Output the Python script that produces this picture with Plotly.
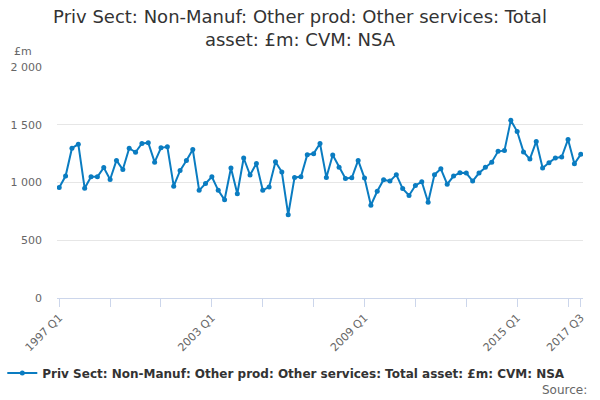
import plotly.graph_objects as go

quarters = [f"{y} Q{q}" for y in range(1997, 2018) for q in range(1, 5)][:83]
values = [956, 1056, 1297, 1332, 950, 1050, 1050, 1129, 1026, 1191,
          1112, 1297, 1262, 1338, 1344, 1176, 1300, 1309, 968, 1103,
          1191, 1285, 932, 991, 1050, 932, 850, 1126, 903, 1212,
          1065, 1165, 932, 962, 1179, 1091, 721, 1044, 1050, 1241,
          1250, 1338, 1044, 1238, 1132, 1035, 1041, 1191, 1038, 803,
          924, 1024, 1012, 1068, 947, 888, 974, 1006, 829, 1068,
          1118, 985, 1056, 1085, 1082, 1012, 1082, 1132, 1176, 1270,
          1276, 1538, 1441, 1265, 1203, 1356, 1126, 1171, 1212, 1221,
          1373, 1162, 1244]
series_name = "Priv Sect: Non-Manuf: Other prod: Other services: Total asset: £m: CVM: NSA"
title_text = "Priv Sect: Non-Manuf: Other prod: Other services: Total<br>asset: £m: CVM: NSA"
labelled = ["1997 Q1", "2003 Q1", "2009 Q1", "2015 Q1", "2017 Q3"]
y_ticks = [0, 500, 1000, 1500, 2000]
y_labels = ["0", "500", "1 000", "1 500", "2 000"]

idx = list(range(len(quarters)))
tick_idx = list(range(0, len(quarters), 8)) + [len(quarters) - 1]
tick_txt = [quarters[i] if quarters[i] in labelled else "" for i in tick_idx]

fig = go.Figure()
fig.add_trace(go.Scatter(
    x=idx, y=values, mode="lines+markers", name=series_name,
    line=dict(color="#0a7cc1", width=2),
    marker=dict(color="#0a7cc1", size=5),
    customdata=quarters,
    hovertemplate="%{customdata}: %{y}<extra></extra>",
))

fig.update_layout(
    width=600, height=400,
    margin=dict(l=57, r=17, t=67, b=102, autoexpand=False),
    paper_bgcolor="white", plot_bgcolor="white",
    font=dict(family="DejaVu Sans", color="#666666", size=11),
    title=dict(text=title_text, x=0.5, xanchor="center", y=0.9425, yanchor="top",
               font=dict(size=18, color="#333333", family="DejaVu Sans")),
    showlegend=True,
    legend=dict(orientation="h", x=-0.104, xanchor="left", y=-0.325, yanchor="middle",
                font=dict(size=12, color="#333333", family="DejaVu Sans", weight="bold"),
                itemwidth=30),
    xaxis=dict(range=[-0.35, 82.35], tickmode="array", tickvals=tick_idx, ticktext=tick_txt,
               tickangle=-45, ticks="outside", ticklen=8, tickcolor="#ccd6eb",
               showline=True, linecolor="#ccd6eb", linewidth=1, showgrid=False,
               zeroline=False, tickfont=dict(size=11, color="#666666")),
    yaxis=dict(range=[0, 2000], tickmode="array", tickvals=y_ticks, ticktext=y_labels,
               showgrid=True, gridcolor="#e6e6e6", zeroline=False, showline=False,
               ticks="", ticklabelstandoff=14, tickfont=dict(size=11, color="#666666")),
    annotations=[
        dict(text="£m", xref="paper", yref="paper", x=-0.085, y=1.065, xanchor="left",
             yanchor="middle", showarrow=False, font=dict(size=11, color="#666666")),
        dict(text="Source:", xref="paper", yref="paper", x=1.011, y=-0.398, xanchor="right",
             yanchor="middle", showarrow=False, font=dict(size=12, color="#666666")),
    ],
)

fig.write_html("out.html", config={"displayModeBar": False},
               post_script="document.body.style.margin='0';")
